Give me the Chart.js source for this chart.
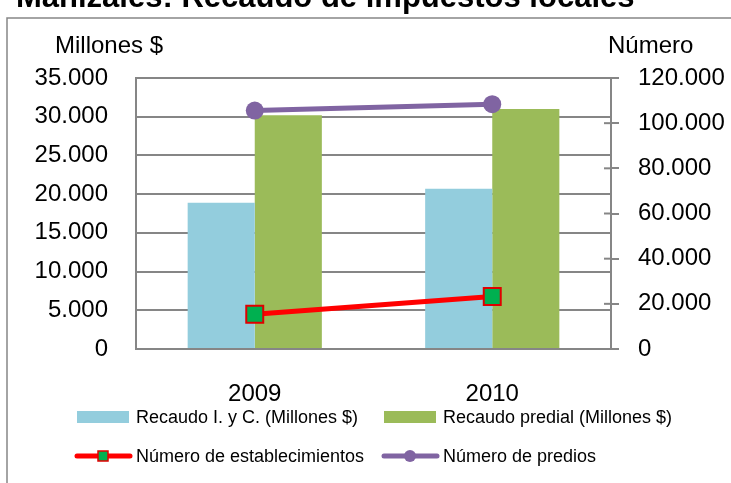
<!DOCTYPE html>
<html>
<head>
<meta charset="utf-8">
<script src="https://cdn.jsdelivr.net/npm/chart.js@4"></script>
<style>
  html, body { margin: 0; padding: 0; background: #fff; }
</style>
</head>
<body>
<canvas id="grafico" width="731" height="483"></canvas>
<script>
// datos
const years = ['2009', '2010'];
const recaudoIyC = [18900, 20700];
const recaudoPredial = [30200, 31000];
const establecimientos = [15400, 23200];
const predios = [105600, 108400];

const FONT = '"Liberation Sans", Arial, sans-serif';
const GRIS = '#868686';
Chart.defaults.font.family = FONT;
Chart.defaults.color = '#000';

const puntos = n => String(n).replace(/\B(?=(\d{3})+(?!\d))/g, '.');

const extras = {
  id: 'extras',
  beforeDraw(chart) {
    const c = chart.ctx;
    c.save();
    c.fillStyle = '#fff';
    c.fillRect(0, 0, chart.width, chart.height);
    // marco
    c.strokeStyle = GRIS;
    c.lineWidth = 1.5;
    c.strokeRect(7, 18, 800, 600);
    // titulo (cortado arriba)
    c.fillStyle = '#000';
    c.font = 'bold 31px ' + FONT;
    c.textBaseline = 'alphabetic';
    c.textAlign = 'left';
    c.fillText('Manizales: Recaudo de impuestos locales', 16, 7);
    // titulos de ejes
    c.font = '24px ' + FONT;
    c.textAlign = 'center';
    c.fillText('Millones $', 109, 53);
    c.textAlign = 'left';
    c.fillText('Número', 608, 53);
    c.restore();
  },
  afterDraw(chart) {
    const c = chart.ctx;
    const y1 = chart.scales.y1;
    c.save();
    // marcas hacia dentro en el eje derecho
    c.strokeStyle = GRIS;
    c.lineWidth = 2;
    y1.ticks.forEach(t => {
      const y = y1.getPixelForValue(t.value);
      c.beginPath();
      c.moveTo(y1.left - 7, y);
      c.lineTo(y1.left, y);
      c.stroke();
    });
    // leyenda
    const ds = chart.data.datasets;
    const cols = [77, 384];
    const rows = [417, 456];
    c.font = '18px ' + FONT;
    c.textBaseline = 'middle';
    c.textAlign = 'left';
    ds.forEach((d, i) => {
      const x = cols[i % 2], y = rows[Math.floor(i / 2)];
      if (d.type === 'bar') {
        c.fillStyle = d.backgroundColor;
        c.fillRect(x, y - 6, 52, 12);
      } else {
        c.strokeStyle = d.borderColor;
        c.lineWidth = 5;
        c.lineCap = 'round';
        c.beginPath();
        c.moveTo(x, y);
        c.lineTo(x + 53, y);
        c.stroke();
        const cx = x + 26;
        c.fillStyle = d.pointBackgroundColor;
        if (d.pointStyle === 'rect') {
          c.fillRect(cx - 5, y - 5, 10, 10);
          c.strokeStyle = d.pointBorderColor;
          c.lineWidth = 1.5;
          c.strokeRect(cx - 5, y - 5, 10, 10);
        } else {
          c.beginPath();
          c.arc(cx, y, 6, 0, Math.PI * 2);
          c.fill();
        }
      }
      c.fillStyle = '#000';
      c.fillText(d.label, x + 59, y + 1);
    });
    c.restore();
  }
};

new Chart(document.getElementById('grafico'), {
  data: {
    labels: years,
    datasets: [
      {
        type: 'bar',
        label: 'Recaudo I. y C. (Millones $)',
        data: recaudoIyC,
        backgroundColor: '#93CDDD',
        yAxisID: 'y',
        order: 2
      },
      {
        type: 'bar',
        label: 'Recaudo predial (Millones $)',
        data: recaudoPredial,
        backgroundColor: '#9BBB59',
        yAxisID: 'y',
        order: 2
      },
      {
        type: 'line',
        label: 'Número de establecimientos',
        data: establecimientos,
        borderColor: '#FF0000',
        borderWidth: 5,
        pointStyle: 'rect',
        pointRadius: 12,
        pointBackgroundColor: '#00B050',
        pointBorderColor: '#E00000',
        pointBorderWidth: 2,
        yAxisID: 'y1',
        order: 1
      },
      {
        type: 'line',
        label: 'Número de predios',
        data: predios,
        borderColor: '#8064A2',
        borderWidth: 5,
        pointStyle: 'circle',
        pointRadius: 9,
        pointBackgroundColor: '#8064A2',
        pointBorderColor: '#8064A2',
        pointBorderWidth: 0,
        yAxisID: 'y1',
        order: 1
      }
    ]
  },
  options: {
    responsive: false,
    animation: false,
    layout: { padding: { top: 78, left: 0, right: 0, bottom: 0 } },
    datasets: { bar: { categoryPercentage: 0.565, barPercentage: 1 } },
    plugins: { legend: { display: false }, tooltip: { enabled: false } },
    scales: {
      x: {
        grid: { display: false, drawTicks: false },
        border: { display: true, color: GRIS, width: 2 },
        ticks: { font: { size: 24 }, padding: 31 },
        afterFit: s => { s.height = 134; }
      },
      y: {
        position: 'left',
        min: 0,
        max: 35000,
        ticks: { stepSize: 5000, font: { size: 24 }, padding: 28, callback: v => puntos(v) },
        grid: { color: GRIS, lineWidth: 2, drawTicks: false },
        border: { display: true, color: GRIS, width: 2 },
        afterFit: s => { s.width = 136; }
      },
      y1: {
        position: 'right',
        min: 0,
        max: 120000,
        ticks: { stepSize: 20000, font: { size: 24 }, padding: 19, callback: v => puntos(v) },
        grid: { drawOnChartArea: false, drawTicks: true, tickLength: 8, color: GRIS, lineWidth: 2 },
        border: { display: true, color: GRIS, width: 2 },
        afterFit: s => { s.width = 120; }
      }
    }
  },
  plugins: [extras]
});
</script>
</body>
</html>
